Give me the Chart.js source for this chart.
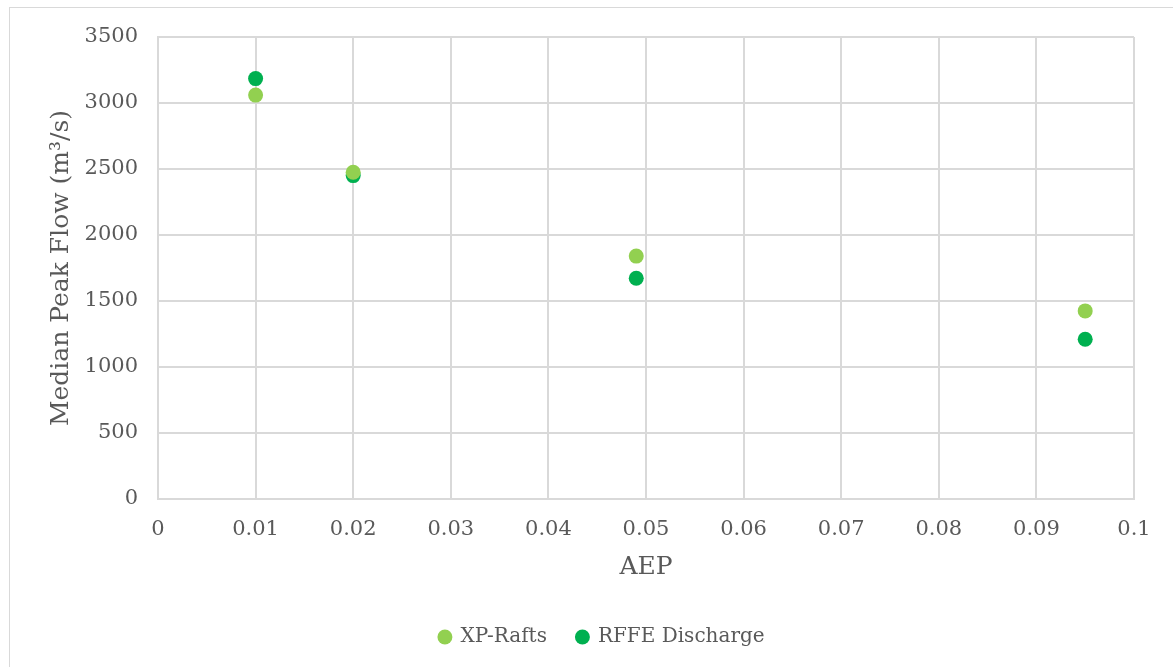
<!DOCTYPE html>
<html>
<head>
<meta charset="utf-8">
<script src="https://cdn.jsdelivr.net/npm/chart.js@4.4.1/dist/chart.umd.min.js"></script>
<style>
  html, body { margin: 0; padding: 0; background: #fff; overflow: hidden; }
  #frame { position: absolute; left: 9px; top: 7px; width: 1200px; height: 700px; border: 1.5px solid #d9d9d9; box-sizing: border-box; }
  #wrap { position: absolute; left: 0; top: 0; width: 1173px; height: 667px; }
</style>
</head>
<body>
<div id="frame"></div>
<div id="wrap"><canvas id="myChart"></canvas></div>
<script>
// data
const aep = [0.01, 0.02, 0.049, 0.095];
const xpRafts = [3060, 2475, 1840, 1425];
const rffeDischarge = [3185, 2450, 1672, 1210];
const seriesNames = ["XP-Rafts", "RFFE Discharge"];

const FONT = "'DejaVu Serif', serif";
const TEXT = "#595959";
const GRID = "#d9d9d9";

const toPoints = (xs, ys) => xs.map((x, i) => ({ x: x, y: ys[i] }));

// legend in the original sits a little right of the plot centre
const legendNudge = {
  id: "legendNudge",
  afterLayout(chart) {
    chart.legend.left += 12;
    chart.legend.right += 12;
  },
};

const ctx = document.getElementById("myChart");
new Chart(ctx, {
  type: "scatter",
  plugins: [legendNudge],
  data: {
    datasets: [
      {
        label: seriesNames[0],
        data: toPoints(aep, xpRafts),
        backgroundColor: "#92d050",
        borderColor: "#92d050",
        pointRadius: 7.5,
        pointBorderWidth: 0,
      },
      {
        label: seriesNames[1],
        data: toPoints(aep, rffeDischarge),
        backgroundColor: "#00b050",
        borderColor: "#00b050",
        pointRadius: 7.5,
        pointBorderWidth: 0,
      },
    ],
  },
  options: {
    animation: false,
    responsive: true,
    maintainAspectRatio: false,
    layout: { padding: { left: 46, right: 39, top: 37, bottom: 10 } },
    plugins: {
      tooltip: { enabled: false },
      legend: {
        position: "bottom",
        labels: {
          usePointStyle: true,
          boxWidth: 11,
          boxHeight: 10.6,
          padding: 30,
          color: TEXT,
          font: { family: FONT, size: 20 },
        },
      },
    },
    scales: {
      x: {
        type: "linear",
        min: 0,
        max: 0.1,
        ticks: {
          stepSize: 0.01,
          color: TEXT,
          padding: 18,
          font: { family: FONT, size: 21 },
          callback: (v) => Number(v.toFixed(2)).toString(),
        },
        grid: { color: GRID, lineWidth: 2, drawTicks: false },
        border: { color: GRID, width: 2 },
        title: {
          display: true,
          text: "AEP",
          color: TEXT,
          font: { family: FONT, size: 25, lineHeight: 2.34 },
          padding: 0,
        },
        afterFit: (scale) => { scale.height = 98; },
      },
      y: {
        min: 0,
        max: 3500,
        ticks: {
          stepSize: 500,
          color: TEXT,
          padding: 20,
          font: { family: FONT, size: 21 },
          callback: (v) => String(v),
        },
        grid: { color: GRID, lineWidth: 2, drawTicks: false },
        border: { color: GRID, width: 2 },
        title: {
          display: true,
          text: "Median Peak Flow (m³/s)",
          color: TEXT,
          font: { family: FONT, size: 25 },
          padding: 0,
        },
        afterFit: (scale) => { scale.width = 112; },
      },
    },
  },
});
</script>
</body>
</html>
